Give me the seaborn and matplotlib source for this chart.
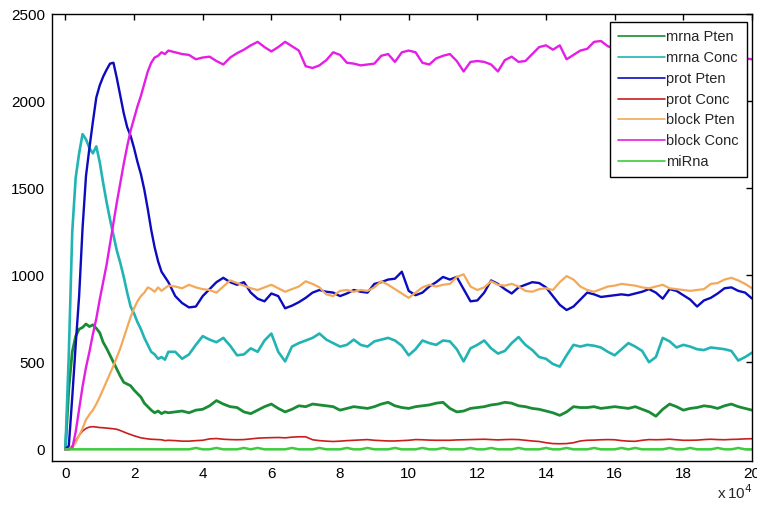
import numpy as np
import pandas as pd
import matplotlib
matplotlib.use("Agg")
import matplotlib.pyplot as plt
import seaborn as sns

# ---- data (time in units of 10^4) ----
t_early = np.round(np.arange(0, 3.01, 0.1), 2)
t_late = np.round(np.arange(3.2, 20.01, 0.2), 2)
time_1e4 = np.concatenate([t_early, t_late])

mrna_pten_early = [0, 350, 560, 650, 690, 700, 720, 705, 715, 695, 670,
                   615, 580, 540, 500, 460, 420, 385, 375, 365, 340,
                   320, 300, 265, 245, 225, 210, 220, 205, 215, 210]
mrna_pten_late = [215, 220, 210, 225, 230, 250, 280, 260, 245, 240,
                  215, 205, 225, 245, 260, 235, 215, 230, 250, 245,
                  260, 255, 250, 245, 225, 235, 245, 240, 235, 245,
                  260, 270, 250, 240, 235, 245, 250, 255, 265, 270,
                  235, 215, 220, 235, 240, 245, 255, 260, 270, 265,
                  250, 245, 235, 230, 220, 210, 195, 215, 245, 240,
                  240, 245, 235, 240, 245, 240, 235, 245, 230, 215,
                  190, 230, 260, 245, 225, 235, 240, 250, 245, 235,
                  250, 260, 245, 235, 225]

mrna_conc_early = [0, 550, 1250, 1560, 1700, 1810, 1780, 1730, 1700, 1740, 1650,
                   1530, 1420, 1320, 1230, 1140, 1070, 990, 900, 820, 780,
                   730, 690, 640, 600, 560, 545, 520, 530, 515, 560]
mrna_conc_late = [560, 520, 545, 600, 650, 630, 615, 640, 595, 540,
                  545, 580, 560, 625, 665, 560, 505, 590, 610, 625,
                  640, 665, 630, 610, 590, 600, 630, 600, 590, 620,
                  630, 640, 625, 595, 540, 575, 625, 610, 600, 625,
                  620, 575, 505, 580, 600, 625, 580, 550, 565, 610,
                  645, 600, 570, 530, 520, 490, 475, 540, 600, 590,
                  600, 595, 585, 560, 540, 575, 610, 590, 565, 500,
                  530, 640, 620, 585, 600, 590, 575, 570, 585, 580,
                  575, 565, 510, 530, 555]

prot_pten_early = [0, 20, 300, 600, 880, 1270, 1570, 1730, 1880, 2020, 2090,
                   2140, 2180, 2215, 2220, 2130, 2030, 1930, 1850, 1800, 1730,
                   1650, 1580, 1490, 1380, 1260, 1160, 1080, 1020, 990, 960]
prot_pten_late = [880, 840, 815, 820, 880, 920, 960, 985, 960, 945,
                  960, 900, 865, 850, 895, 880, 810, 825, 845, 870,
                  900, 915, 905, 900, 880, 895, 915, 905, 900, 950,
                  960, 975, 980, 1020, 910, 885, 900, 935, 960, 990,
                  975, 990, 920, 850, 855, 900, 970, 950, 920, 895,
                  930, 945, 960, 955, 930, 880, 830, 800, 820, 860,
                  900, 890, 875, 880, 885, 890, 885, 895, 905, 920,
                  900, 865, 920, 910, 885, 860, 820, 855, 870, 895,
                  925, 930, 910, 900, 866]

prot_conc_early = [0, 0, 20, 50, 80, 105, 120, 128, 130, 128, 125,
                   124, 122, 120, 118, 115, 108, 100, 92, 85, 78,
                   72, 66, 63, 60, 58, 57, 56, 55, 50, 52]
prot_conc_late = [50, 47, 47, 50, 52, 60, 62, 58, 56, 55,
                  56, 60, 64, 66, 67, 68, 66, 70, 72, 72,
                  55, 50, 47, 45, 47, 50, 52, 54, 56, 52,
                  50, 48, 48, 50, 52, 56, 55, 53, 52, 52,
                  52, 54, 55, 56, 57, 58, 56, 54, 56, 57,
                  56, 52, 48, 45, 38, 33, 32, 33, 38, 48,
                  52, 53, 55, 56, 55, 50, 47, 46, 52, 56,
                  55, 56, 58, 55, 52, 52, 53, 56, 58, 56,
                  55, 57, 58, 60, 61]

block_pten_early = [0, 0, 10, 40, 80, 120, 170, 200, 225, 260, 300,
                    345, 390, 435, 480, 530, 580, 640, 700, 760, 810,
                    850, 880, 900, 930, 920, 905, 930, 910, 925, 940]
block_pten_late = [935, 925, 945, 930, 920, 915, 900, 935, 970, 955,
                   940, 925, 915, 930, 945, 925, 905, 920, 935, 965,
                   950, 930, 890, 880, 910, 915, 905, 915, 910, 930,
                   965, 945, 920, 895, 870, 900, 930, 945, 935, 945,
                   950, 990, 1005, 935, 915, 930, 965, 945, 940, 950,
                   935, 910, 905, 920, 925, 915, 960, 995, 975, 935,
                   915, 905, 920, 935, 940, 950, 945, 940, 930, 925,
                   935, 945, 925, 920, 915, 910, 915, 920, 950, 955,
                   975, 985, 970, 950, 925]

block_conc_early = [0, 0, 5, 100, 230, 360, 470, 560, 660, 750, 860,
                    960, 1060, 1180, 1300, 1420, 1530, 1640, 1740, 1830, 1900,
                    1970, 2030, 2100, 2170, 2220, 2250, 2260, 2280, 2270, 2290]
block_conc_late = [2280, 2270, 2265, 2240, 2250, 2255, 2230, 2210, 2250, 2275,
                   2295, 2320, 2340, 2310, 2285, 2310, 2340, 2315, 2290, 2200,
                   2190, 2205, 2235, 2280, 2265, 2220, 2215, 2205, 2210, 2215,
                   2260, 2270, 2225, 2280, 2290, 2280, 2220, 2210, 2245, 2260,
                   2270, 2230, 2170, 2225, 2230, 2225, 2210, 2170, 2235, 2255,
                   2225, 2230, 2270, 2310, 2320, 2295, 2320, 2240, 2265, 2290,
                   2300, 2340, 2345, 2315, 2300, 2290, 2280, 2300, 2285, 2270,
                   2280, 2300, 2290, 2270, 2260, 2270, 2290, 2280, 2260, 2250,
                   2260, 2270, 2255, 2245, 2240]

mirna_early = [0] * 31
mirna_late = [0, 0, 0, 8, 0, 0, 8, 0, 0, 0,
              8, 0, 8, 0, 0, 0, 0, 8, 0, 0,
              0, 8, 0, 0, 0, 8, 0, 0, 8, 0,
              0, 0, 8, 0, 0, 0, 8, 0, 0, 8,
              0, 0, 0, 8, 0, 0, 8, 0, 0, 0,
              8, 0, 0, 0, 8, 0, 0, 8, 0, 0,
              0, 8, 0, 0, 0, 8, 0, 8, 0, 0,
              0, 0, 8, 0, 0, 8, 0, 0, 0, 8,
              0, 0, 8, 0, 0]

series_names = ["mrna Pten", "mrna Conc", "prot Pten", "prot Conc",
                "block Pten", "block Conc", "miRna"]
series_values = [mrna_pten_early + mrna_pten_late,
                 mrna_conc_early + mrna_conc_late,
                 prot_pten_early + prot_pten_late,
                 prot_conc_early + prot_conc_late,
                 block_pten_early + block_pten_late,
                 block_conc_early + block_conc_late,
                 mirna_early + mirna_late]
colors = ["#1a8c36", "#22b4b4", "#0c0cbe", "#c81e1e",
          "#f4a85a", "#e41ee4", "#3ccc3c"]
widths = [2.0, 1.9, 1.7, 1.2, 1.6, 1.7, 1.8]

xticks = [0, 2, 4, 6, 8, 10, 12, 14, 16, 18, 20]
yticks = [0, 500, 1000, 1500, 2000, 2500]

rows = []
for name, vals in zip(series_names, series_values):
    for tt, v in zip(time_1e4, vals):
        rows.append((name, tt, v))
df = pd.DataFrame(rows, columns=["series", "t", "value"])

sns.set_style("white")
plt.rcParams["font.family"] = ["Liberation Sans", "DejaVu Sans"]

fig = plt.figure(figsize=(7.57, 5.08), dpi=100)
ax = fig.add_axes([52 / 757, 1 - 461 / 508, 700 / 757, 447 / 508])

for name, col, lw in zip(series_names, colors, widths):
    sub = df[df["series"] == name]
    sns.lineplot(data=sub, x="t", y="value", color=col, linewidth=lw,
                 label=name, ax=ax, sort=False, estimator=None)

ax.set_xlim(-0.39, 20)
ax.set_ylim(-67, 2500)
ax.set_xticks(xticks)
ax.set_xticklabels([str(v) for v in xticks])
ax.set_yticks(yticks)
ax.set_yticklabels([str(v) for v in yticks])
ax.set_xlabel("")
ax.set_ylabel("")
ax.tick_params(direction="in", top=True, right=True, length=4.5, width=1,
               labelsize=11, colors="black")
ax.tick_params(axis="y", pad=5)
ax.tick_params(axis="x", pad=4)
for s in ax.spines.values():
    s.set_visible(True)
    s.set_color("black")
    s.set_linewidth(1.0)

leg = ax.legend(loc="upper right", bbox_to_anchor=(0.993, 0.982),
                borderaxespad=0, fontsize=10.5, frameon=True, fancybox=False,
                edgecolor="black", framealpha=1, labelspacing=0.47,
                handlelength=3.2, handletextpad=0.1, borderpad=0.55)
leg.get_frame().set_linewidth(1.0)
for h in leg.get_lines():
    h.set_linewidth(1.2)

ax.text(1.0, -0.084, r"x$\,$10$^{4}$", transform=ax.transAxes,
        ha="right", va="baseline", fontsize=11)

fig.savefig("out.png", dpi=100, facecolor="white")
